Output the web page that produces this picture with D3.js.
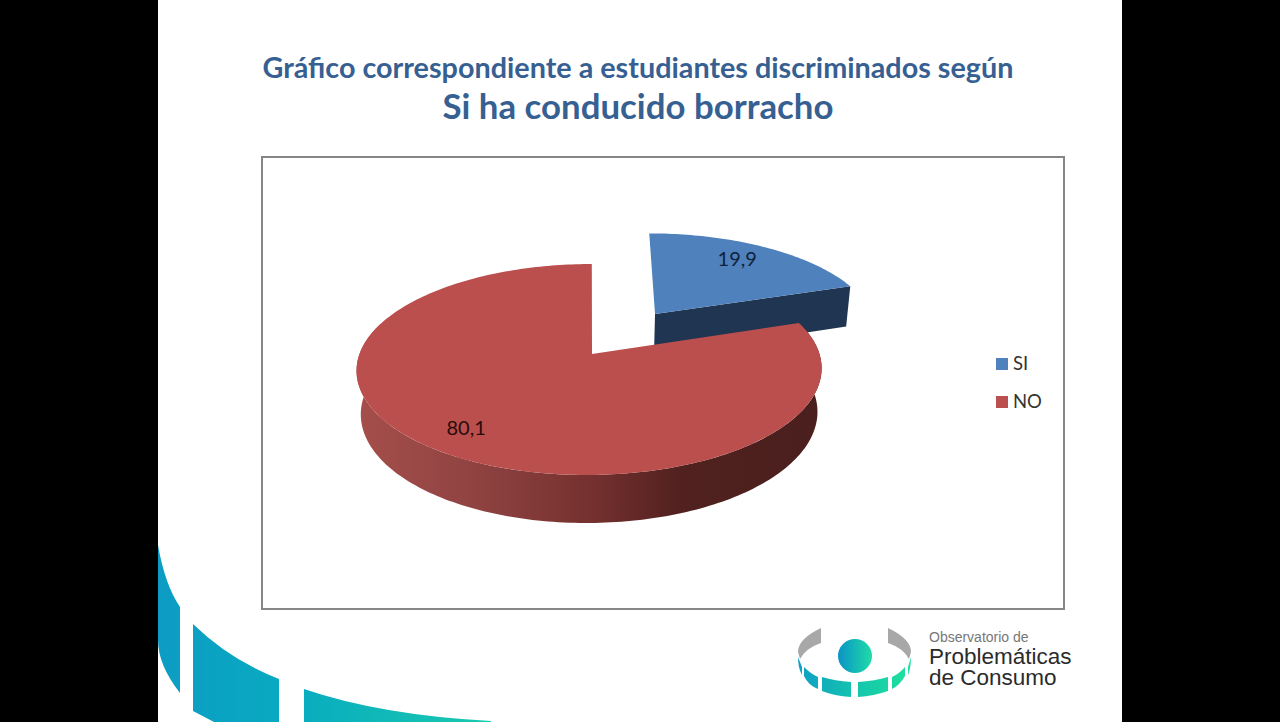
<!DOCTYPE html>
<html>
<head>
<meta charset="utf-8">
<script src="https://cdn.jsdelivr.net/npm/d3@7"></script>
<style>
  html, body { margin: 0; padding: 0; background: #000; }
  svg { display: block; }
  text { font-family: Lato, "Open Sans", sans-serif; }
  .logo-text { font-family: "Liberation Sans", Arial, sans-serif; }
</style>
</head>
<body>
<div id="graph"></div>
<script>
// data
const categories = ["SI", "NO"];
const values = [19.9, 80.1];
const valueLabels = ["19,9", "80,1"];
const titleLines = ["Gráfico correspondiente a estudiantes discriminados según", "Si ha conducido borracho"];

const width = 1280, height = 722;

const svg = d3.select("#graph").append("svg")
    .attr("width", width)
    .attr("height", height);

const defs = svg.append("defs");

function hGradient(id, x1, x2, stops) {
    const g = defs.append("linearGradient")
        .attr("id", id)
        .attr("gradientUnits", "userSpaceOnUse")
        .attr("x1", x1).attr("x2", x2).attr("y1", 0).attr("y2", 0);
    stops.forEach(s => g.append("stop").attr("offset", s[0]).attr("stop-color", s[1]));
}

hGradient("wallRed", 360, 820, [[0, "#a54e4b"], [0.25, "#8f4341"], [0.5, "#75312f"], [0.7, "#50211f"], [1, "#4a1f1d"]]);
hGradient("bands", 158, 490, [[0, "#0d9cc4"], [0.4, "#08abc0"], [1, "#1ac9ae"]]);
hGradient("logoBall", 838, 872, [[0, "#0b93c6"], [1, "#1fdca8"]]);
hGradient("logoRing", 798, 912, [[0, "#0f9fc4"], [0.5, "#14c4ae"], [1, "#1fe29d"]]);

// slide
svg.append("rect").attr("width", width).attr("height", height).attr("fill", "#000");
svg.append("rect").attr("x", 158).attr("y", 0).attr("width", 964).attr("height", height).attr("fill", "#fff");

// slide decoration, bottom left
const bandPaths = [
    "M158,545 Q165,585 180,607 L180,693 Q158,665 158,640 Z",
    "M193,624 Q230,660 279,679 L279,722 L214,722 L193,711 Z",
    "M304,689 Q380,715 491,721 L491,722 L304,722 Z"
];
svg.append("g").selectAll("path").data(bandPaths).join("path")
    .attr("d", d => d)
    .attr("fill", "url(#bands)");

// titles
svg.append("text").text(titleLines[0])
    .attr("x", 638).attr("y", 78)
    .attr("text-anchor", "middle")
    .attr("font-size", 28.5).attr("font-weight", 700)
    .attr("textLength", 751).attr("lengthAdjust", "spacingAndGlyphs")
    .attr("fill", "#376092");
svg.append("text").text(titleLines[1])
    .attr("x", 638).attr("y", 119)
    .attr("text-anchor", "middle")
    .attr("font-size", 34).attr("font-weight", 700)
    .attr("textLength", 391).attr("lengthAdjust", "spacingAndGlyphs")
    .attr("fill", "#376092");

// chart frame
svg.append("rect")
    .attr("x", 262).attr("y", 157)
    .attr("width", 802).attr("height", 452)
    .attr("fill", "#fff")
    .attr("stroke", "#868686").attr("stroke-width", 2);

// 3d pie: disc coordinates (u right, v back) go through a small perspective projection
const cx = 592, cy = 354;
const rx = 230, ry = 103.2;
const persp = 0.147, skew = 0.01;
const depth = 44, depthPersp = 0.018;

function project(u, v, low) {
    const w = 1 + persp * v + (low ? depthPersp : 0);
    return [
        cx + rx * (u + skew * v) / w,
        cy + (-ry * v + (low ? depth : 0)) / w
    ];
}

// blue slice is pulled away from the centre, the red rim sits a touch left of its apex
const offsets = { SI: [0.2865, 0.4113], NO: [0, 0] };
const rimShift = { SI: 0, NO: -0.011 };
const labelNudge = { SI: [-6, 0], NO: [-4, 2] };

const color = d3.scaleOrdinal().domain(categories).range(["#4f81bd", "#bb4f4d"]);
const wallColor = d3.scaleOrdinal().domain(categories).range(["#1f3552", "url(#wallRed)"]);
const labelColor = d3.scaleOrdinal().domain(categories).range(["#10233c", "#2a0b0a"]);

const slices = d3.pie().sort(null).value(d => d)(values)
    .map((s, i) => Object.assign(s, { name: categories[i], label: valueLabels[i] }));

const line = d3.line();

function angleSteps(a0, a1) {
    const n = Math.ceil((a1 - a0) / 0.02);
    return d3.range(n + 1).map(i => a0 + (a1 - a0) * i / n);
}

function rimPoint(s, a, low, r = 1) {
    const o = offsets[s.name];
    return project(o[0] + rimShift[s.name] + r * Math.sin(a), o[1] + r * Math.cos(a), low);
}

function topPath(s) {
    const apex = project(offsets[s.name][0], offsets[s.name][1], false);
    return line([apex].concat(angleSteps(s.startAngle, s.endAngle).map(a => rimPoint(s, a, false)))) + "Z";
}

function wallPath(s) {
    const o = offsets[s.name];
    if (s.name === "SI") {
        // only the cut face at the end of the slice can be seen
        return line([
            project(o[0], o[1], false),
            rimPoint(s, s.endAngle, false),
            rimPoint(s, s.endAngle, true),
            project(o[0], o[1], true)
        ]) + "Z";
    }
    // the back of the rim is hidden under the top surface, stop just past the left side
    const steps = angleSteps(s.startAngle, Math.PI * 1.6);
    return line(steps.map(a => rimPoint(s, a, false))
        .concat(steps.slice().reverse().map(a => rimPoint(s, a, true)))) + "Z";
}

const pie = svg.append("g").attr("class", "pie");

slices.forEach(s => {
    pie.append("path").attr("d", wallPath(s)).attr("fill", wallColor(s.name));
    pie.append("path").attr("d", topPath(s)).attr("fill", color(s.name));
});

// value labels
slices.forEach(s => {
    const mid = (s.startAngle + s.endAngle) / 2;
    const p = rimPoint(s, mid, false, 0.79);
    svg.append("text").text(s.label)
        .attr("x", p[0] + labelNudge[s.name][0]).attr("y", p[1] + 6 + labelNudge[s.name][1])
        .attr("text-anchor", "middle")
        .attr("font-size", 20)
        .attr("fill", labelColor(s.name));
});

// legend
const legendY = d3.scalePoint().domain(categories).range([364, 402]);
const legend = svg.append("g").selectAll("g").data(categories).join("g")
    .attr("transform", d => "translate(996," + legendY(d) + ")");
legend.append("rect")
    .attr("x", 0).attr("y", -6).attr("width", 12).attr("height", 12)
    .attr("fill", d => color(d));
legend.append("text").text(d => d)
    .attr("x", 17).attr("y", 6)
    .attr("font-size", 18.5)
    .attr("fill", "#333");

// logo
const logo = svg.append("g");
logo.append("path")
    .attr("d", "M821,628 Q798,639 798,652 L800,659 Q806,648 821,643 Z")
    .attr("fill", "#a8a8a8");
logo.append("path")
    .attr("d", "M888,628 Q911,639 911,652 L909,659 Q903,648 888,643 Z")
    .attr("fill", "#a8a8a8");
const ringPaths = [
    "M798,657 L802,667 L802,675 Q798,668 798,657 Z",
    "M804,667 Q811,674 818,677 L818,689 Q808,685 804,676 Z",
    "M822,677 Q835,681 851,682 L851,697 Q834,696 822,691 Z",
    "M858,682 Q875,681 888,677 L888,691 Q874,696 858,697 Z",
    "M892,677 Q899,674 905,667 L905,676 Q900,685 892,689 Z",
    "M908,667 L911,657 Q911,668 908,675 Z"
];
logo.selectAll("path.seg").data(ringPaths).join("path")
    .attr("class", "seg")
    .attr("d", d => d)
    .attr("fill", "url(#logoRing)");
logo.append("circle")
    .attr("cx", 855).attr("cy", 656).attr("r", 17)
    .attr("fill", "url(#logoBall)");

const logoLines = [
    { text: "Observatorio de", y: 642, size: 14, fill: "#777" },
    { text: "Problemáticas", y: 664, size: 22.5, fill: "#2b2b2b" },
    { text: "de Consumo", y: 685, size: 22.5, fill: "#2b2b2b" }
];
logo.selectAll("text").data(logoLines).join("text")
    .attr("class", "logo-text")
    .attr("x", 929)
    .attr("y", d => d.y)
    .attr("font-size", d => d.size)
    .attr("fill", d => d.fill)
    .text(d => d.text);
</script>
</body>
</html>
